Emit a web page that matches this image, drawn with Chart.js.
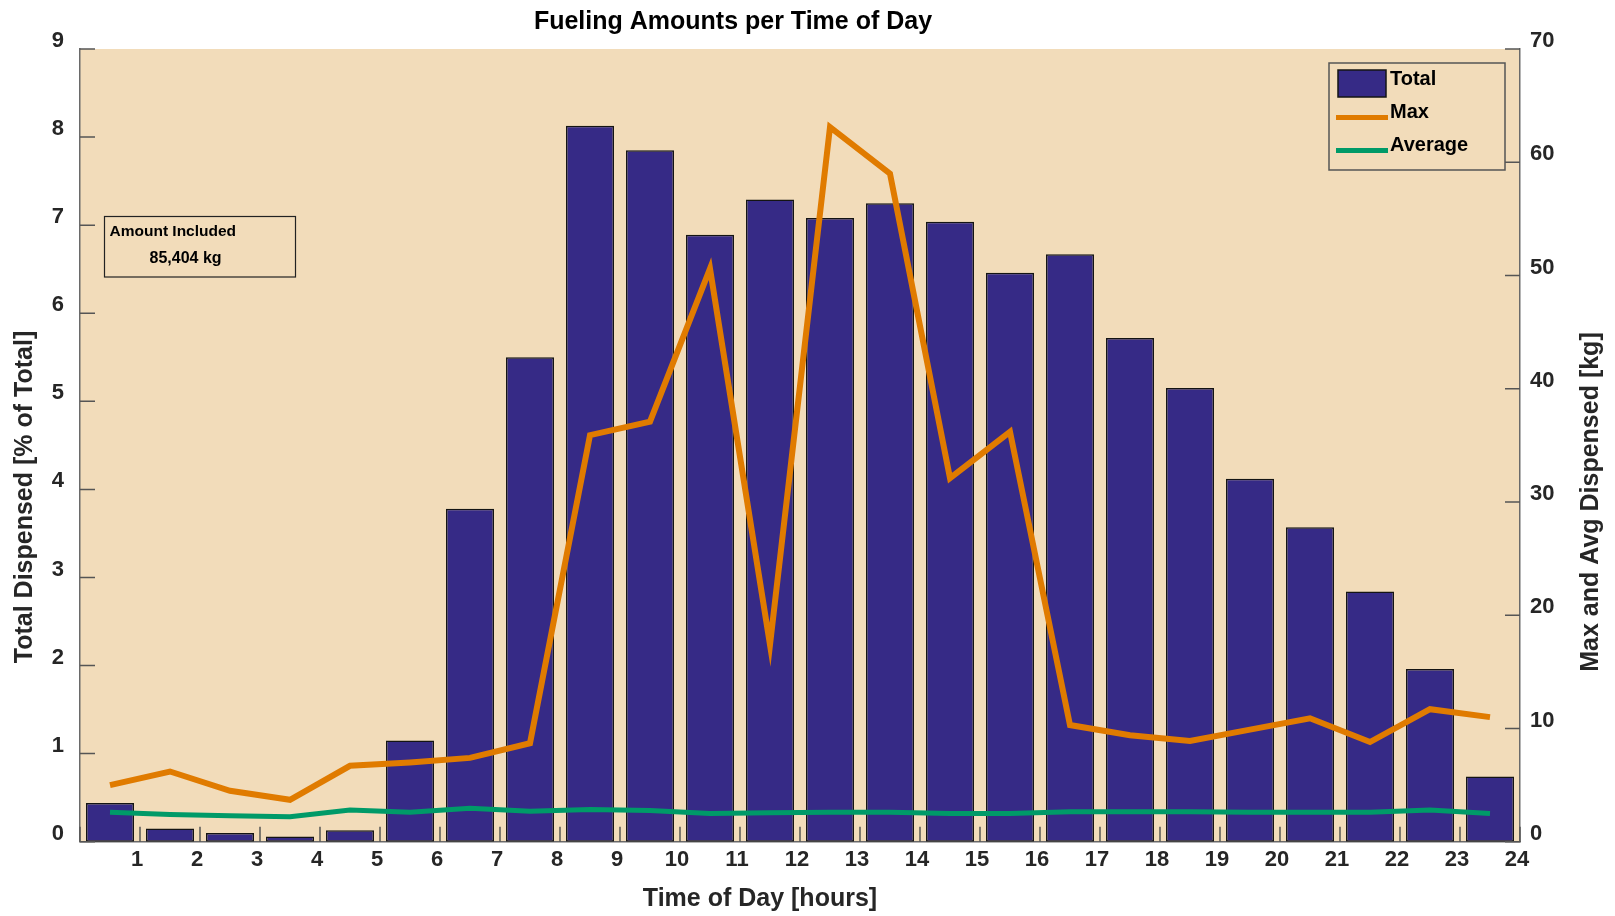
<!DOCTYPE html>
<html>
<head>
<meta charset="utf-8">
<title>Fueling Amounts per Time of Day</title>
<script src="https://cdn.jsdelivr.net/npm/chart.js@4.4.1/dist/chart.umd.min.js"></script>
<style>
	html, body { margin: 0; padding: 0; background: #ffffff; }
	canvas { display: block; }
</style>
</head>
<body>
<canvas id="fuelChart" width="1615" height="916"></canvas>
<script>
// hour of day (middle of each hour) and the labels under the axis
var hourMid = [0.5, 1.5, 2.5, 3.5, 4.5, 5.5, 6.5, 7.5, 8.5, 9.5, 10.5, 11.5,
	12.5, 13.5, 14.5, 15.5, 16.5, 17.5, 18.5, 19.5, 20.5, 21.5, 22.5, 23.5];
var hourTicks = ['1', '2', '3', '4', '5', '6', '7', '8', '9', '10', '11', '12',
	'13', '14', '15', '16', '17', '18', '19', '20', '21', '22', '23', '24'];

// share of total dispensed [%]
var totalPct = [0.44, 0.15, 0.10, 0.06, 0.13, 1.15, 3.78, 5.50, 8.13, 7.85, 6.89, 7.29,
	7.08, 7.25, 7.04, 6.46, 6.67, 5.72, 5.15, 4.12, 3.57, 2.84, 1.96, 0.74];
// max and average single fueling [kg]
var maxKg = [5.0, 6.2, 4.5, 3.7, 6.7, 7.0, 7.4, 8.7, 35.9, 37.1, 50.6, 17.4,
	63.1, 59.0, 32.1, 36.2, 10.3, 9.4, 8.9, 9.9, 10.9, 8.8, 11.7, 11.0];
var avgKg = [2.6, 2.4, 2.3, 2.2, 2.8, 2.6, 2.95, 2.7, 2.85, 2.75, 2.5, 2.55,
	2.6, 2.6, 2.5, 2.5, 2.65, 2.65, 2.65, 2.6, 2.6, 2.6, 2.8, 2.5];

var amountIncluded = '85,404 kg';

var FONT = "'Liberation Sans', Arial, Helvetica, sans-serif";
var BEIGE = '#f2dcba';
var AXIS_GREY = '#6a6a6a';

function pts(ys) {
	return hourMid.map(function (h, i) { return { x: h, y: ys[i] }; });
}

Chart.defaults.font.family = FONT;

// beige plot area
var plotBg = {
	id: 'plotBg',
	beforeDraw: function (chart) {
		var a = chart.chartArea, ctx = chart.ctx;
		ctx.save();
		ctx.fillStyle = BEIGE;
		ctx.fillRect(a.left, a.top, a.right - a.left, a.bottom - a.top);
		ctx.restore();
	}
};

// tick marks pointing into the plot, drawn over the bars
var innerTicks = {
	id: 'innerTicks',
	afterDatasetsDraw: function (chart) {
		var ctx = chart.ctx, a = chart.chartArea, len = 15;
		ctx.save();
		ctx.strokeStyle = '#555555';
		ctx.lineWidth = 1.5;
		ctx.beginPath();
		chart.scales.x.ticks.forEach(function (t) {
			var px = chart.scales.x.getPixelForValue(t.value);
			ctx.moveTo(px, a.bottom);
			ctx.lineTo(px, a.bottom - len);
		});
		chart.scales.y.ticks.forEach(function (t) {
			var py = chart.scales.y.getPixelForValue(t.value);
			ctx.moveTo(a.left, py);
			ctx.lineTo(a.left + len, py);
		});
		chart.scales.y1.ticks.forEach(function (t) {
			var py = chart.scales.y1.getPixelForValue(t.value);
			ctx.moveTo(a.right, py);
			ctx.lineTo(a.right - len, py);
		});
		ctx.stroke();
		ctx.restore();
	}
};

// titles, legend box and the "Amount Included" note
var decorations = {
	id: 'decorations',
	afterDraw: function (chart) {
		var ctx = chart.ctx;
		ctx.save();
		ctx.fillStyle = '#000000';
		ctx.textAlign = 'center';
		ctx.textBaseline = 'middle';
		ctx.font = 'bold 25px ' + FONT;
		ctx.fillText('Fueling Amounts per Time of Day', 733, 22);
		ctx.fillStyle = '#262626';
		ctx.fillText('Time of Day [hours]', 760, 899);

		ctx.save();
		ctx.translate(25, 497);
		ctx.rotate(-Math.PI / 2);
		ctx.fillText('Total Dispensed [% of Total]', 0, 0);
		ctx.restore();
		ctx.save();
		ctx.translate(1591, 502);
		ctx.rotate(-Math.PI / 2);
		ctx.fillText('Max and Avg Dispensed [kg]', 0, 0);
		ctx.restore();

		// legend
		ctx.strokeStyle = '#555555';
		ctx.lineWidth = 1.5;
		ctx.strokeRect(1329, 63, 176, 107);
		ctx.textAlign = 'left';
		ctx.textBaseline = 'alphabetic';
		ctx.font = 'bold 20px ' + FONT;
		chart.data.datasets.forEach(function (ds, i) {
			var base = 85 + i * 33;
			if (ds.type === 'line') {
				ctx.strokeStyle = ds.borderColor;
				ctx.lineWidth = 5;
				ctx.beginPath();
				ctx.moveTo(1336, base - 0.5);
				ctx.lineTo(1388, base - 0.5);
				ctx.stroke();
			} else {
				ctx.fillStyle = ds.backgroundColor;
				ctx.fillRect(1338, base - 15, 48, 27);
				ctx.strokeStyle = ds.borderColor;
				ctx.lineWidth = 1.5;
				ctx.strokeRect(1338, base - 15, 48, 27);
			}
			ctx.fillStyle = '#000000';
			ctx.fillText(ds.label, 1390, base);
		});

		// note box
		ctx.strokeStyle = '#222222';
		ctx.lineWidth = 1.2;
		ctx.strokeRect(104.5, 216.5, 191, 60.5);
		ctx.fillStyle = '#000000';
		ctx.font = 'bold 15.5px ' + FONT;
		ctx.fillText('Amount Included', 109.5, 235.5);
		ctx.font = 'bold 16px ' + FONT;
		ctx.fillText(amountIncluded, 149.5, 263);
		ctx.restore();
	}
};

var tickFont = { size: 22, weight: 'bold' };

var ctx = document.getElementById('fuelChart').getContext('2d');
var fuelChart = new Chart(ctx, {
	type: 'bar',
	data: {
		datasets: [{
			type: 'bar',
			label: 'Total',
			data: pts(totalPct),
			yAxisID: 'y',
			backgroundColor: '#362a86',
			borderColor: '#141414',
			borderWidth: 1.5,
			borderSkipped: false,
			categoryPercentage: 1.0,
			barPercentage: 0.8,
			order: 3
		}, {
			type: 'line',
			label: 'Max',
			data: pts(maxKg),
			yAxisID: 'y1',
			borderColor: '#e07b00',
			borderWidth: 6,
			pointRadius: 0,
			tension: 0,
			fill: false,
			order: 2
		}, {
			type: 'line',
			label: 'Average',
			data: pts(avgKg),
			yAxisID: 'y1',
			borderColor: '#009a68',
			borderWidth: 5,
			pointRadius: 0,
			tension: 0,
			fill: false,
			order: 1
		}]
	},
	options: {
		responsive: false,
		animation: false,
		layout: { padding: { top: 49, left: 0, right: 0, bottom: 0 } },
		plugins: {
			legend: { display: false },
			title: { display: false },
			tooltip: { enabled: false }
		},
		scales: {
			x: {
				type: 'linear',
				min: 0,
				max: 24,
				offset: false,
				grid: { display: false, drawTicks: false },
				border: { display: true, color: AXIS_GREY, width: 1.5 },
				ticks: {
					stepSize: 1,
					autoSkip: false,
					maxRotation: 0,
					padding: 5,
					labelOffset: -3,
					color: '#262626',
					font: tickFont,
					callback: function (v) {
						return v === 0 ? '' : hourTicks[v - 1];
					}
				},
				afterFit: function (s) { s.height = 74.3; }
			},
			y: {
				position: 'left',
				min: 0,
				max: 9,
				grid: { display: false, drawTicks: false },
				border: { display: true, color: AXIS_GREY, width: 1.5 },
				ticks: {
					stepSize: 1,
					padding: 16,
					labelOffset: -8,
					color: '#262626',
					font: tickFont
				},
				afterFit: function (s) { s.width = 80; }
			},
			y1: {
				position: 'right',
				min: 0,
				max: 70,
				grid: { display: false, drawTicks: false },
				border: { display: true, color: AXIS_GREY, width: 1.5 },
				ticks: {
					stepSize: 10,
					padding: 10,
					labelOffset: -8,
					color: '#262626',
					font: tickFont
				},
				afterFit: function (s) { s.width = 95; }
			}
		}
	},
	plugins: [plotBg, innerTicks, decorations]
});
</script>
</body>
</html>
